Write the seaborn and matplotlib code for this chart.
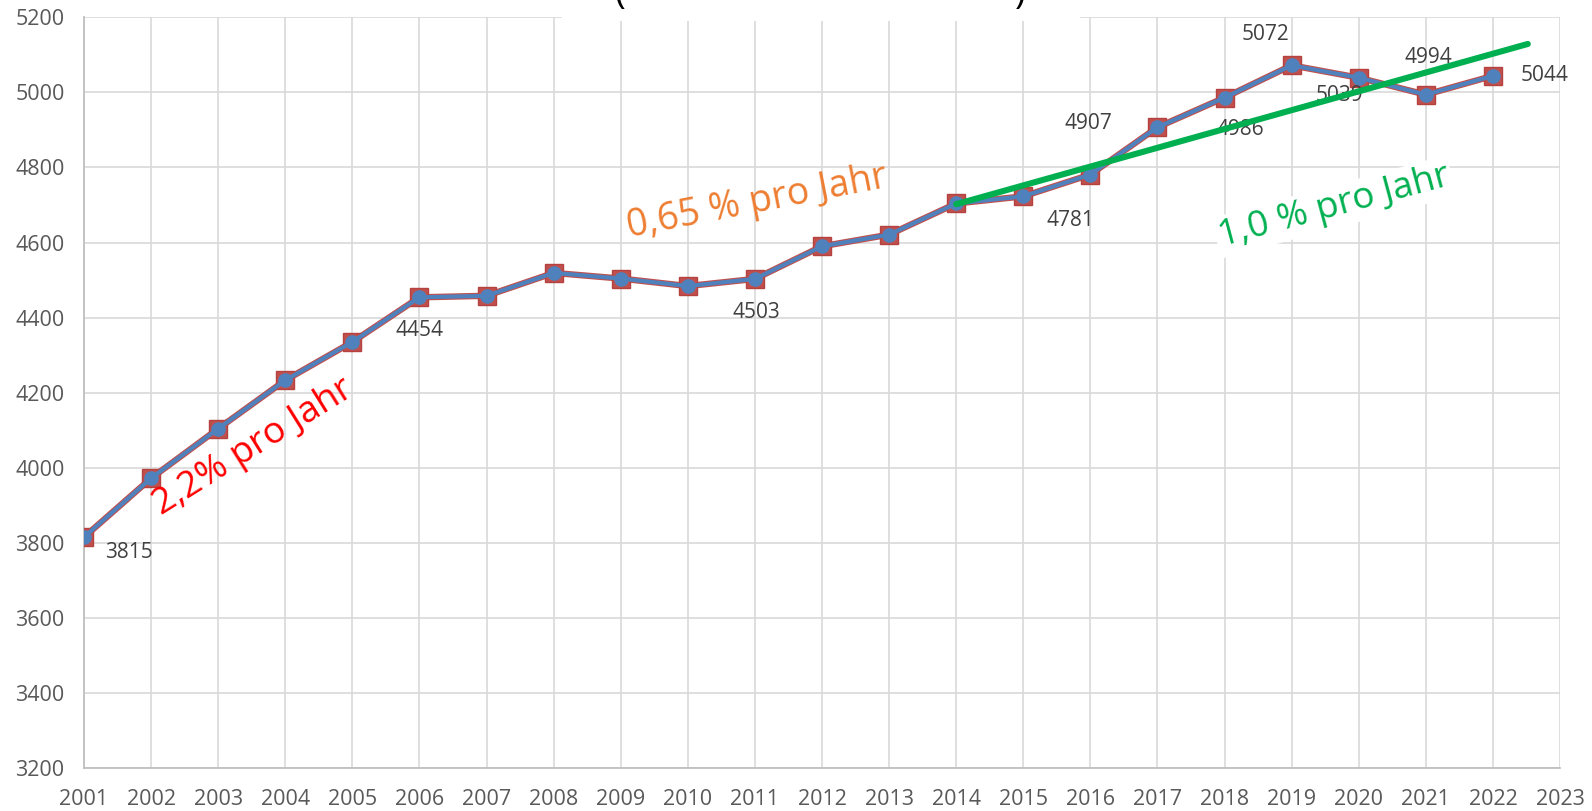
import pandas as pd
import seaborn as sns
import matplotlib.pyplot as plt
from matplotlib.patches import Rectangle

# 1. Data
years = [2001, 2002, 2003, 2004, 2005, 2006, 2007, 2008, 2009, 2010, 2011,
         2012, 2013, 2014, 2015, 2016, 2017, 2018, 2019, 2020, 2021, 2022]
values = [3815, 3972, 4104, 4233, 4335, 4454, 4458, 4519, 4504, 4484, 4503,
          4590, 4621, 4704, 4723, 4781, 4907, 4986, 5072, 5039, 4994, 5044]
label_years = [2001, 2006, 2011, 2016, 2017, 2018, 2019, 2020, 2021, 2022]
trend_x = [2014, 2022.52]
trend_y = [4702, 5129]
x_ticks = list(range(2001, 2024))
y_ticks = list(range(3200, 5201, 200))

# 2. Style
sns.set_style("white")
plt.rcParams["font.family"] = ["Open Sans", "DejaVu Sans"]

red = "#C0504D"
blue = "#4F81BD"
green = "#00B050"
orange = "#ED7D31"
tick_col = "#595959"
lab_col = "#404040"

df = pd.DataFrame({"Jahr": years, "Wert": values})

fig = plt.figure(figsize=(15.92, 8.11), dpi=100)
ax = fig.add_axes([84 / 1592, 1 - 768 / 811, 1476 / 1592, 750.7 / 811])

# 3. Series (two identical series, red squares below blue circles)
sns.lineplot(data=df, x="Jahr", y="Wert", ax=ax, color=red, linewidth=4.6,
             marker="s", markersize=13, markerfacecolor=red,
             markeredgecolor="#B5423F", markeredgewidth=1, zorder=3)
sns.lineplot(data=df, x="Jahr", y="Wert", ax=ax, color=blue, linewidth=3,
             marker="o", markersize=10.5, markerfacecolor=blue,
             markeredgewidth=0, zorder=4)
sns.lineplot(x=trend_x, y=trend_y, ax=ax, color=green, linewidth=4.4,
             zorder=6)

# 4. Data labels (Excel-style placement, offsets in points)
offsets = {2001: (32, -11), 2006: (0, -24), 2011: (1, -24), 2016: (-14, -33),
           2017: (-50, 3), 2018: (11, -23), 2019: (-19, 22), 2020: (-14, -13),
           2021: (2, 27), 2022: (37, 0)}
for yr in label_years:
    v = values[years.index(yr)]
    ax.annotate(str(v), (yr, v), xytext=offsets[yr], textcoords="offset points",
                ha="center", va="center", fontsize=15, color=lab_col, zorder=5)

# 5. Growth annotations
ax.text(2003.52, 4055, "2,2% pro Jahr", color="#FF0000", fontsize=26.5,
        rotation=32, ha="center", va="center", rotation_mode="anchor", zorder=7)
ax.text(2011.03, 4708, "0,65 % pro Jahr", color=orange, fontsize=27,
        rotation=11, ha="center", va="center", rotation_mode="anchor", zorder=7)
ax.text(2019.63, 4695, "1,0 % pro Jahr", color=green, fontsize=26.5,
        rotation=15, ha="center", va="center", rotation_mode="anchor", zorder=2,
        bbox=dict(facecolor="white", edgecolor="none", pad=2))

# 6. Axes
ax.set_xlim(2001, 2023)
ax.set_ylim(3200, 5200)
ax.set_xticks(x_ticks)
ax.set_yticks(y_ticks)
ax.set_xlabel("")
ax.set_ylabel("")
ax.grid(True, color="#D9D9D9", linewidth=1.2)
ax.set_axisbelow(True)
for s in ["top", "right"]:
    ax.spines[s].set_visible(False)
for s in ["left", "bottom"]:
    ax.spines[s].set_color("#BFBFBF")
    ax.spines[s].set_linewidth(1.3)
ax.tick_params(axis="x", length=5.8, width=1.2, color="#BFBFBF", pad=9,
               labelsize=15.5, labelcolor=tick_col)
ax.tick_params(axis="y", length=5, width=1.2, color="#BFBFBF", pad=9,
               labelsize=15.5, labelcolor=tick_col)

# 7. Cut-off title at the top
fig.add_artist(Rectangle((562 / 1592, 1 - 21 / 811), 518 / 1592, 21 / 811,
                         transform=fig.transFigure, facecolor="white",
                         edgecolor="none", zorder=10))
fig.text(620 / 1592, 1 - 3 / 811, "(", fontsize=26, ha="center", va="baseline",
         color="black", zorder=11)
fig.text(1020 / 1592, 1 - 3 / 811, ")", fontsize=26, ha="center", va="baseline",
         color="black", zorder=11)

fig.savefig("out.png", dpi=100)
